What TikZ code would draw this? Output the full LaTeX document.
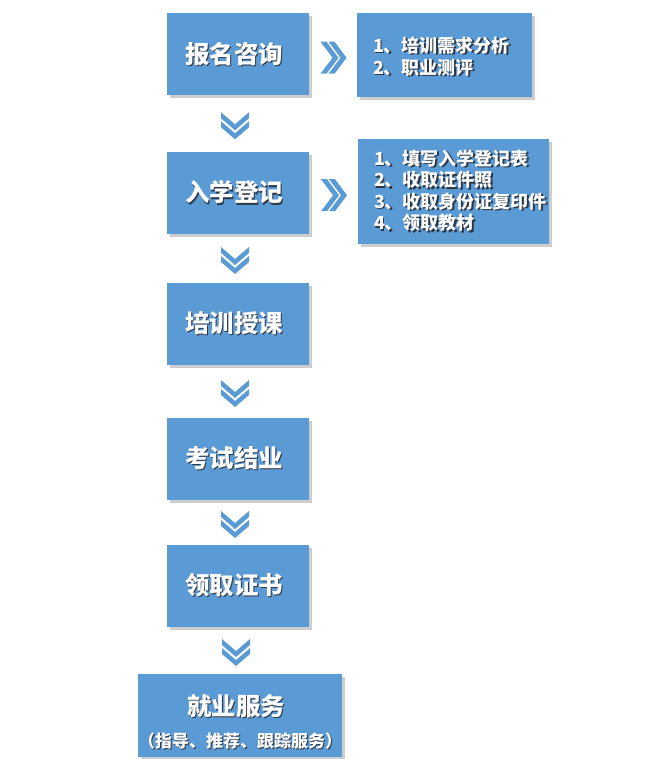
\documentclass[tikz,border=0pt]{standalone}
\usepackage{fontspec}
\newfontfamily\cjk{Noto Sans CJK SC}
\usepackage{xcolor}
\usepackage{tikz}
\usetikzlibrary{calc}
\usetikzlibrary{arrows.meta}
\usetikzlibrary{shadows}
\usetikzlibrary{positioning}
\definecolor{boxblue}{RGB}{91,155,213}
\definecolor{txtshadow}{RGB}{45,55,70}
\definecolor{boxshadow}{RGB}{205,205,205}
\newcommand{\shd}[1]{\makebox[0pt][l]{\hspace{1.2pt}\raisebox{-1.2pt}{\color{txtshadow}#1}}#1}
\newcommand{\steptxt}[1]{\kern-8pt\shd{#1}}
\tikzset{>=latex}
\tikzstyle{stepbox} = [rectangle, fill=boxblue, text=white, inner sep=0pt,
  drop shadow={shadow xshift=3pt, shadow yshift=-3pt, fill=boxshadow, opacity=1},
  minimum width=142, minimum height=82, font=\cjk\bfseries\fontsize{24.5}{29}\selectfont]
\tikzstyle{notebox} = [stepbox, align=left, inner xsep=16, inner ysep=0pt,
  font=\cjk\bfseries\fontsize{18}{21.5}\selectfont]
\tikzset{
  chevdown/.pic={
    \foreach \s in {-13.5,-4.5}
      \fill[boxblue] (-14,\s+6) -- (0,\s+18) -- (14,\s+6) -- (14,\s) -- (0,\s+12) -- (-14,\s) -- cycle;
  },
  chevright/.pic={
    \foreach \s in {-12.5,-4.5}
      \fill[boxblue] (\s+6,-16) -- (\s+18,0) -- (\s+6,16) -- (\s,16) -- (\s+12,0) -- (\s,-16) -- cycle;
  },
}

\begin{document}
\begin{tikzpicture}[x=1pt, y=-1pt]
\useasboundingbox (0,0) rectangle (648,759);
% main steps
\node [stepbox] (signup) at (238, 54.5) {\steptxt{报名咨询}};
\node [stepbox] (enrol) at (238, 193) {\steptxt{入学登记}};
\node [stepbox] (train) at (238, 324) {\steptxt{培训授课}};
\node [stepbox] (exam) at (238, 459) {\steptxt{考试结业}};
\node [stepbox] (cert) at (238, 586) {\steptxt{领取证书}};
\node [stepbox, align=center, minimum width=204, minimum height=83] (job) at (240, 715.5)
  {\rule{0pt}{34pt}\steptxt{就业服务}\\[3pt]{\fontsize{17}{20}\selectfont\shd{（指导、推荐、跟踪服务）}}};
% notes
\node [notebox, text width=143, minimum height=84] (needs) at (444.5, 55)
  {\rule{0pt}{20pt}\shd{1、培训需求分析}\\\shd{2、职业测评}};
\node [notebox, text width=159, minimum height=105] (docs) at (453.5, 191.5)
  {\shd{1、填写入学登记表}\\\shd{2、收取证件照}\\\shd{3、收取身份证复印件}\\\shd{4、领取教材}};
% chevrons
\foreach \a/\b in {signup/enrol, enrol/train, train/exam, exam/cert, cert/job}
  \pic at ($(\a.south)!0.5!(\b.north)+(-3,2)$) {chevdown};
\pic at ($(signup.east)!0.5!(needs.west)+(0,3)$) {chevright};
\pic at ($(enrol.east)!0.5!(docs.west)+(0,3)$) {chevright};
\end{tikzpicture}
\end{document}
